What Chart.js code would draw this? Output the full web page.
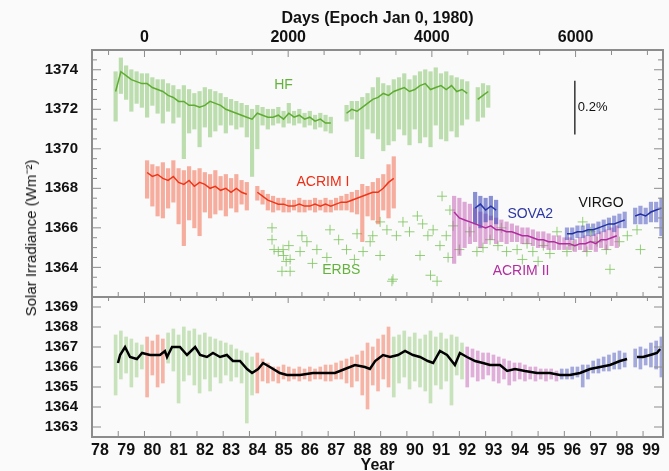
<!DOCTYPE html>
<html>
<head>
<meta charset="utf-8">
<script src="https://cdn.jsdelivr.net/npm/chart.js@4.4.0/dist/chart.umd.min.js"></script>
<style>
html, body { margin: 0; padding: 0; background: #fafafa; }
#wrap { position: relative; width: 669px; height: 471px; }
#ylab { position: absolute; left: 30px; top: 238px; transform: translate(-50%, -50%) rotate(-90deg);
  font: 15px "Liberation Sans", Arial, sans-serif; color: #111; white-space: nowrap; }
</style>
</head>
<body>
<div id="wrap">
<canvas id="chartID" width="669" height="471"></canvas>
<div id="ylab">Solar Irradiance (Wm⁻²)</div>
</div>
<script>
// HF (Nimbus-7), top panel
const hfYears = [78.9,79.1,79.3,79.5,79.7,79.9,80.1,80.3,80.5,80.7, 80.9,81.1,81.3,81.5,81.7,81.9,82.1,82.3,82.5,82.7,
  82.9,83.1,83.3,83.5,83.7,83.9,84.1,84.3,84.5,84.7, 84.9,85.1,85.3,85.5,85.7,85.9,86.1,86.3,86.5,86.7,
  86.9,87.1,87.3,87.5,87.7,87.9,88.1,88.3,88.5,88.7, 88.9,89.1,89.3,89.5,89.7,89.9,90.1,90.3,90.5,90.7,
  90.9,91.1,91.3,91.5,91.7,91.9,92.1,92.3,92.5,92.7, 92.9,93.1]
const hfValues = [1372.9,1373.9,1373.7,1373.5,1373.4,1373.3,1373.3,1373.1,1373.0,1372.9, 1372.7,1372.6,1372.4,1372.4,1372.2,1372.2,1372.1,1372.2,1372.4,1372.3,
  1372.2,1372.0,1371.9,1371.8,1371.7,1371.6,1371.5,1371.8,1371.7,1371.6, 1371.6,1371.7,1371.5,1371.8,1371.6,1371.7,1371.5,1371.6,1371.4,1371.5,
  1371.3,1371.3,null,null,1371.8,1372.0,1371.9,1372.1,1372.3,1372.5, 1372.6,1372.8,1372.7,1372.9,1373.0,1373.1,1372.9,1373.0,1373.2,1373.3,
  1373.0,1373.1,1373.2,1373.0,1373.2,1372.9,1373.0,1372.8,null,1372.5, 1372.7,1372.9]
const hfHigh = [1373.9,1374.6,1374.2,1374.0,1373.9,1373.8,1373.8,1373.6,1373.5,1373.5, 1373.3,1373.2,1373.0,1373.2,1373.0,1372.8,1372.9,1373.1,1373.0,1372.9,
  1372.8,1372.6,1372.5,1372.4,1372.3,1372.2,1372.0,1372.2,1372.1,1372.0, 1372.0,1372.1,1371.9,1372.3,1371.9,1372.0,1371.8,1371.9,1371.7,1371.8,
  1371.7,1371.6,null,null,1372.2,1372.4,1372.4,1372.6,1372.8,1373.1, 1373.6,1373.3,1373.2,1373.5,1373.6,1373.8,1373.5,1373.7,1373.9,1374.0,
  1373.9,1374.1,1373.8,1373.9,1373.7,1373.6,1373.5,1373.4,null,1373.1, 1373.3,1373.2]
const hfLow = [1371.4,1372.8,1372.5,1371.9,1372.3,1372.1,1371.6,1372.2,1371.8,1371.3, 1371.9,1371.3,1371.6,1369.5,1370.8,1371.0,1370.1,1371.1,1370.6,1370.9,
  1371.2,1370.8,1371.2,1371.0,1371.1,1370.6,1368.6,1370.0,1371.2,1371.0, 1371.2,1371.3,1371.1,1371.3,1371.2,1371.3,1371.1,1371.2,1371.0,1371.1,
  1370.9,1370.8,null,null,1371.4,1371.5,1369.6,1369.5,1371.0,1370.8, 1370.5,1369.9,1370.2,1370.4,1371.0,1370.7,1370.2,1371.0,1370.3,1370.6,
  1370.1,1371.2,1370.5,1370.4,1370.9,1370.6,1371.2,1371.5,null,1371.4, 1371.6,1372.1]

// ACRIM I, top panel
const acrim1Years = [80.1,80.3,80.5,80.7,80.9,81.1,81.3,81.5,81.7,81.9, 82.1,82.3,82.5,82.7,82.9,83.1,83.3,83.5,83.7,83.9,
  84.1,84.3,84.5,84.7,84.9,85.1,85.3,85.5,85.7,85.9, 86.1,86.3,86.5,86.7,86.9,87.1,87.3,87.5,87.7,87.9,
  88.1,88.3,88.5,88.7,88.9,89.1,89.3,89.5]
const acrim1Values = [1368.8,1368.6,1368.7,1368.5,1368.4,1368.6,1368.3,1368.2,1368.4,1368.1, 1368.3,1368.2,1368.0,1368.1,1367.9,1368.0,1367.8,1368.0,1367.8,1367.7,
  null,1367.8,1367.6,1367.4,1367.3,1367.2,1367.2,1367.1,1367.1,1367.2, 1367.1,1367.1,1367.2,1367.1,1367.2,1367.1,1367.2,1367.3,1367.3,1367.4,
  1367.5,1367.6,1367.7,1367.8,1367.8,1368.0,1368.3,1368.5]
const acrim1High = [1369.4,1369.2,1369.1,1369.3,1369.0,1369.4,1369.0,1368.9,1369.1,1368.9, 1369.0,1368.8,1368.7,1368.9,1368.6,1368.7,1368.5,1368.7,1368.4,1368.3,
  null,1368.1,1367.9,1367.7,1367.6,1367.5,1367.5,1367.4,1367.4,1367.5, 1367.4,1367.4,1367.5,1367.4,1367.5,1367.4,1367.5,1367.6,1367.7,1367.8,
  1367.9,1368.2,1368.1,1368.3,1368.5,1368.7,1369.2,1369.6]
const acrim1Low = [1367.5,1367.1,1366.6,1366.5,1367.0,1367.3,1366.2,1365.1,1366.4,1366.0, 1365.6,1366.8,1366.5,1366.7,1366.9,1366.6,1367.0,1366.8,1367.2,1366.9,
  null,1367.4,1367.2,1366.9,1366.8,1366.9,1366.8,1366.8,1366.9,1366.8, 1366.8,1366.9,1366.8,1366.9,1366.8,1366.8,1366.9,1366.9,1366.9,1366.8,
  1366.7,1365.3,1366.6,1366.4,1366.2,1366.9,1366.5,1367.0]

// ERBS, top panel
const erbsYears = [84.86,84.86,84.94,85.1,85.3,85.4,85.24,85.5,85.28,85.55, 85.93,86.19,86.57,87.07,86.95,85.55,87.7,88.1,88.33,88.6,
  88.98,88.7,89.24,88.98,89.47,89.6,89.85,90.1,90.4,90.6, 90.8,90.5,90.9,91.34,91.0,91.26,91.5,91.76,91.64,91.57,
  92.0,92.67,92.9,93.17,93.47,93.8,94.2,94.58,94.8,95.2, 95.45,95.72,96.1,96.33,96.7,96.86,97.25,97.6,97.74,98.1,
  98.4,98.77,98.9,89.43,91.15,95.0,86.0,87.4,86.4,88.0, 92.4,93.6,94.4,97.0]
const erbsValues = [1366.0,1365.4,1364.9,1364.8,1364.6,1364.3,1363.8,1365.1,1364.9,1364.4, 1364.8,1365.3,1364.9,1365.9,1364.5,1363.8,1364.9,1365.7,1364.8,1365.3,
  1366.3,1365.6,1365.9,1364.6,1363.4,1365.6,1366.3,1365.8,1366.6,1366.2, 1365.6,1364.6,1363.6,1367.6,1365.9,1365.1,1365.6,1366.1,1366.9,1364.5,
  1364.9,1364.8,1365.0,1365.4,1365.1,1364.8,1364.9,1365.2,1364.8,1365.1, 1364.7,1365.8,1364.8,1365.1,1366.3,1364.8,1365.3,1364.9,1363.9,1365.3,
  1365.6,1365.9,1364.9,1363.3,1363.3,1364.3,1365.6,1365.4,1364.2,1364.4, 1365.8,1366.0,1364.4,1365.8]

// ACRIM II, top panel
const acrim2Years = [91.8,92.0,92.2,92.4,92.6,92.8,93.0,93.2,93.4,93.6, 93.8,94.0,94.2,94.4,94.6,94.8,95.0,95.2,95.4,95.6,
  95.8,96.0,96.2,96.4,96.6,96.8,97.0,97.2,97.4,97.6, 97.8,98.0]
const acrim2Values = [1366.8,1366.5,1366.4,1366.3,1366.2,1366.1,1366.0,1366.1,1365.9,1365.9, 1365.8,1365.8,1365.7,1365.6,1365.6,1365.5,1365.4,1365.4,1365.3,1365.3,
  1365.2,1365.2,1365.2,1365.1,1365.2,1365.2,1365.3,1365.2,1365.4,1365.4, 1365.5,1365.6]
const acrim2High = [1367.6,1367.5,1367.3,1367.2,1367.0,1366.8,1366.7,1366.6,1366.5,1366.4, 1366.3,1366.2,1366.1,1366.0,1366.0,1365.9,1365.8,1365.8,1365.7,1365.6,
  1365.6,1365.5,1365.5,1365.4,1365.5,1365.6,1365.6,1365.7,1365.8,1365.9, 1366.0,1366.1]
const acrim2Low = [1364.2,1364.6,1365.0,1365.2,1365.3,1365.0,1365.2,1365.4,1365.2,1365.3, 1365.2,1365.3,1365.3,1365.2,1365.2,1365.1,1365.0,1365.0,1364.9,1364.9,
  1364.9,1364.9,1364.9,1364.8,1364.9,1364.8,1364.9,1364.8,1365.0,1364.9, 1365.1,1365.0]

// SOVA2, top panel
const sovaYears = [92.6,92.8,93.0,93.2,93.4]
const sovaValues = [1367.0,1367.2,1366.9,1367.1,1366.9]
const sovaHigh = [1367.8,1367.6,1367.5,1367.6,1367.4]
const sovaLow = [1366.2,1366.0,1366.3,1366.4,1366.2]

// VIRGO, top panel
const virgoYears = [96.1,96.3,96.5,96.7,96.9,97.1,97.3,97.5,97.7,97.9, 98.1,98.3,98.5,98.7,98.9,99.1,99.3,99.5,99.7]
const virgoValues = [1365.7,1365.7,1365.8,1365.8,1365.9,1365.9,1366.0,1366.1,1366.2,1366.2, 1366.3,1366.4,null,1366.6,1366.7,1366.6,1366.8,1366.9,1367.0]
const virgoHigh = [1366.0,1366.0,1366.1,1366.1,1366.2,1366.2,1366.3,1366.4,1366.5,1366.6, 1366.7,1366.8,null,1367.0,1367.1,1367.0,1367.3,1367.3,1367.5]
const virgoLow = [1365.4,1365.4,1365.5,1365.5,1365.6,1365.6,1365.7,1365.8,1365.9,1365.8, 1366.0,1366.0,null,1366.2,1366.2,1366.2,1366.3,1366.3,1365.6]

// composite, bottom panel
const compYears = [78.99,79.07,79.26,79.45,79.71,79.91,80.21,80.59,80.78,80.86, 81.05,81.35,81.62,81.93,82.12,82.38,82.61,82.88,83.14,83.37,
  83.64,83.91,84.1,84.33,84.52,84.78,85.16,85.43,85.93,86.42, 86.96,87.26,87.64,88.02,88.4,88.59,88.79,89.09,89.36,89.66,
  89.93,90.23,90.5,90.8,91.0,91.26,91.53,91.83,92.02,92.29, 92.6,92.9,93.17,93.55,93.82,94.12,94.5,94.96,95.45,95.83,
  96.21,96.6,96.98,97.36,97.74,98.12,98.39,98.55,98.77,99.0, 99.27,99.53,99.65]
const compValues = [1366.2,1366.6,1367.0,1366.5,1366.4,1366.7,1366.6,1366.6,1366.8,1366.5, 1367.0,1367.0,1366.6,1367.0,1366.6,1366.5,1366.7,1366.5,1366.6,1366.3,
  1366.3,1365.9,1365.7,1365.9,1366.2,1366.0,1365.7,1365.6,1365.6,1365.7, 1365.7,1365.7,1365.9,1366.1,1366.0,1365.9,1366.3,1366.6,1366.5,1366.6,
  1366.8,1366.6,1366.5,1366.3,1366.2,1366.8,1366.6,1366.1,1366.7,1366.5, 1366.3,1366.2,1366.1,1366.1,1365.8,1365.9,1365.8,1365.7,1365.7,1365.6,
  1365.6,1365.7,1365.9,1366.0,1366.1,1366.3,1366.4,null,1366.5,1366.5, 1366.6,1366.7,1366.9]

// daily spread under the composite, bottom panel (source instrument per sample)
const lowerYears = [78.9,79.1,79.3,79.5,79.7,79.9,80.1,80.3,80.5,80.7, 80.9,81.1,81.3,81.5,81.7,81.9,82.1,82.3,82.5,82.7,
  82.9,83.1,83.3,83.5,83.7,83.9,84.1,84.3,84.5,84.7, 84.9,85.1,85.3,85.5,85.7,85.9,86.1,86.3,86.5,86.7,
  86.9,87.1,87.3,87.5,87.7,87.9,88.1,88.3,88.5,88.7, 88.9,89.1,89.3,89.5,89.7,89.9,90.1,90.3,90.5,90.7,
  90.9,91.1,91.3,91.5,91.7,91.9,92.1,92.3,92.5,92.7, 92.9,93.1,93.3,93.5,93.7,93.9,94.1,94.3,94.5,94.7,
  94.9,95.1,95.3,95.5,95.7,95.9,96.1,96.3,96.5,96.7, 96.9,97.1,97.3,97.5,97.7,97.9,98.1,98.3,98.7,98.9,
  99.1,99.3,99.5,99.7]
const lowerSource = ['HF','HF','HF','HF','HF','HF','ACRIM1','ACRIM1','ACRIM1','ACRIM1',
  'HF','HF','HF','HF','HF','HF','HF','HF','HF','HF',
  'HF','HF','HF','HF','HF','HF','HF','ACRIM1','ACRIM1','ACRIM1',
  'ACRIM1','ACRIM1','ACRIM1','ACRIM1','ACRIM1','ACRIM1','ACRIM1','ACRIM1','ACRIM1','ACRIM1',
  'ACRIM1','ACRIM1','ACRIM1','ACRIM1','ACRIM1','ACRIM1','ACRIM1','ACRIM1','ACRIM1','ACRIM1',
  'ACRIM1','ACRIM1','ACRIM1','HF','HF','HF','HF','HF','HF','HF',
  'HF','HF','HF','HF','HF','HF','HF','ACRIM2','ACRIM2','ACRIM2',
  'ACRIM2','ACRIM2','ACRIM2','ACRIM2','ACRIM2','ACRIM2','ACRIM2','ACRIM2','ACRIM2','ACRIM2',
  'ACRIM2','ACRIM2','ACRIM2','ACRIM2','ACRIM2','VIRGO','VIRGO','VIRGO','VIRGO','VIRGO',
  'VIRGO','VIRGO','VIRGO','VIRGO','VIRGO','VIRGO','VIRGO','VIRGO','VIRGO','VIRGO',
  'VIRGO','VIRGO','VIRGO','VIRGO']
const lowerHigh = [1367.6,1367.8,1367.5,1367.4,1367.2,1367.1,1367.5,1367.3,1367.6,1367.4,
  1367.7,1367.9,1367.6,1368.0,1367.8,1367.9,1367.6,1367.7,1367.5,1367.4,
  1367.3,1367.2,1367.1,1366.9,1366.8,1366.7,1366.5,1366.7,1366.4,1366.2,
  1366.0,1366.0,1366.1,1366.0,1365.9,1366.0,1365.9,1366.0,1365.9,1366.0,
  1366.1,1366.1,1366.2,1366.3,1366.4,1366.5,1366.6,1366.8,1367.2,1367.0,
  1367.4,1367.6,1368.0,1367.5,1367.6,1367.8,1367.5,1367.7,1367.4,1367.6,
  1367.8,1367.5,1367.7,1367.4,1367.6,1367.5,1367.2,1367.0,1366.9,1366.8,
  1366.7,1366.7,1366.6,1366.5,1366.4,1366.3,1366.2,1366.2,1366.1,1366.0,
  1366.0,1365.9,1365.9,1365.9,1365.8,1365.9,1365.9,1366.0,1366.0,1366.1,
  1366.1,1366.3,1366.4,1366.5,1366.6,1366.7,1366.8,1366.7,1366.9,1367.0,
  1366.9,1367.2,1367.3,1367.5]
const lowerLow = [1364.6,1365.4,1365.7,1365.0,1365.5,1365.9,1364.5,1365.6,1365.0,1365.2,
  1366.2,1365.8,1364.2,1365.3,1365.6,1365.1,1364.7,1365.4,1364.8,1365.5,
  1365.2,1365.6,1365.3,1365.5,1365.2,1363.2,1364.6,1364.7,1365.3,1365.2,
  1365.3,1365.2,1365.4,1365.3,1365.4,1365.3,1365.4,1365.3,1365.4,1365.4,
  1365.3,1365.3,1365.4,1365.4,1365.2,1365.0,1365.3,1364.6,1363.9,1365.1,
  1364.8,1365.4,1365.0,1364.5,1365.2,1365.5,1364.9,1365.3,1365.0,1364.8,
  1364.2,1365.1,1364.9,1365.3,1364.1,1365.6,1365.4,1365.0,1365.5,1365.3,
  1365.4,1365.6,1365.3,1365.2,1365.4,1365.1,1365.3,1365.4,1365.3,1365.4,
  1365.3,1365.4,1365.3,1365.4,1365.3,1365.4,1365.4,1365.4,1365.5,1365.0,
  1365.4,1365.7,1365.7,1365.8,1365.8,1365.9,1365.9,1366.0,1366.0,1365.9,
  1366.1,1366.0,1365.9,1365.5]

// axis ticks
const dayTicks = [-500, 0, 500, 1000, 1500, 2000, 2500, 3000, 3500, 4000, 4500, 5000, 5500, 6000, 6500, 7000]
const dayLabels = [0, 2000, 4000, 6000]
const topTicks = [1363, 1363.5, 1364, 1364.5, 1365, 1365.5, 1366, 1366.5, 1367, 1367.5, 1368, 1368.5,
  1369, 1369.5, 1370, 1370.5, 1371, 1371.5, 1372, 1372.5, 1373, 1373.5, 1374, 1374.5]
const bottomTicks = [1363, 1364, 1365, 1366, 1367, 1368, 1369]

// series labels drawn inside the top panel
const labelTexts = ['HF', 'ACRIM I', 'ERBS', 'SOVA2', 'VIRGO', 'ACRIM II']
const labelYears = [85.3, 86.8, 87.5, 94.7, 97.4, 94.35]
const labelValues = [1373.2, 1368.3, 1363.85, 1366.7, 1367.25, 1363.8]
const labelColors = ['rgb(100,178,60)', 'rgb(238,45,20)', 'rgb(100,178,60)', 'rgb(45,55,165)', '#111', 'rgb(178,45,160)']

const colors = {
	HF: ['rgb(95,172,50)', 'rgba(125,192,95,0.5)'],
	ACRIM1: ['rgb(238,55,25)', 'rgba(242,95,65,0.5)'],
	ACRIM2: ['rgb(175,45,158)', 'rgba(192,85,178,0.5)'],
	SOVA: ['rgb(40,52,168)', 'rgba(60,72,185,0.6)'],
	VIRGO: ['rgb(35,48,160)', 'rgba(60,72,185,0.5)'],
}

function points(xs, ys) {
	return xs.map(function(x, i) { return {x: x, y: ys[i]} })
}
function ranges(xs, lo, hi) {
	let out = []
	xs.forEach(function(x, i) {
		if (lo[i] !== null) out.push({x: x, y: [lo[i], hi[i]]})
	})
	return out
}
function lowerRanges(src) {
	let out = []
	lowerYears.forEach(function(x, i) {
		if (lowerSource[i] === src) out.push({x: x, y: [lowerLow[i], lowerHigh[i]]})
	})
	return out
}
function lineSet(data, color, axis, width) {
	return {type: 'line', data: data, yAxisID: axis, borderColor: color, borderWidth: width,
		pointRadius: 0, tension: 0, spanGaps: false, fill: false}
}
function barSet(data, color, axis, thick) {
	return {type: 'bar', data: data, yAxisID: axis, backgroundColor: color, barThickness: thick,
		grouped: false, borderWidth: 0}
}
function fixedTicks(list) {
	return function(sc) { sc.ticks = list.map(function(v) { return {value: v} }) }
}

const data = {
	datasets: [
		lineSet(points(compYears, compValues), '#000', 'yBot', 2.5),
		lineSet(points(hfYears, hfValues), colors.HF[0], 'yTop', 1.5),
		lineSet(points(acrim1Years, acrim1Values), colors.ACRIM1[0], 'yTop', 1.5),
		lineSet(points(sovaYears, sovaValues), colors.SOVA[0], 'yTop', 1.5),
		lineSet(points(virgoYears, virgoValues), colors.VIRGO[0], 'yTop', 1.5),
		lineSet(points(acrim2Years, acrim2Values), colors.ACRIM2[0], 'yTop', 1.5),
		barSet(ranges(hfYears, hfLow, hfHigh), colors.HF[1], 'yTop', 3.5),
		barSet(ranges(acrim1Years, acrim1Low, acrim1High), colors.ACRIM1[1], 'yTop', 3.5),
		barSet(ranges(sovaYears, sovaLow, sovaHigh), colors.SOVA[1], 'yTop', 3.5),
		barSet(ranges(virgoYears, virgoLow, virgoHigh), colors.VIRGO[1], 'yTop', 3.5),
		barSet(ranges(acrim2Years, acrim2Low, acrim2High), colors.ACRIM2[1], 'yTop', 3.5),
		{type: 'scatter', data: points(erbsYears, erbsValues), yAxisID: 'yTop', showLine: false,
			pointStyle: 'cross', pointRadius: 5, borderColor: 'rgba(130,198,100,0.85)', borderWidth: 1},
		barSet(lowerRanges('HF'), 'rgba(140,200,110,0.45)', 'yBot', 3),
		barSet(lowerRanges('ACRIM1'), 'rgba(242,95,65,0.45)', 'yBot', 3),
		barSet(lowerRanges('ACRIM2'), 'rgba(192,85,178,0.45)', 'yBot', 3),
		barSet(lowerRanges('VIRGO'), 'rgba(60,72,185,0.45)', 'yBot', 3),
	],
}

// inward tick marks, frame, series labels and the 0.2% bar
const frameTicks = {
	id: 'frameTicks',
	afterDraw: function(chart) {
		const ctx = chart.ctx
		const a = chart.chartArea
		const s = chart.scales
		const mid = s.yTop.bottom
		function seg(x1, y1, x2, y2) { ctx.beginPath(); ctx.moveTo(x1, y1); ctx.lineTo(x2, y2); ctx.stroke() }
		ctx.save()
		ctx.strokeStyle = '#8c8c8c'
		ctx.lineWidth = 1
		topTicks.forEach(function(v) {
			const py = s.yTop.getPixelForValue(v)
			const len = v % 2 === 0 ? 9 : 5
			seg(a.left, py, a.left + len, py)
			seg(a.right, py, a.right - len, py)
		})
		bottomTicks.forEach(function(v) {
			const py = s.yBot.getPixelForValue(v)
			seg(a.left, py, a.left + 9, py)
			seg(a.right, py, a.right - 9, py)
		})
		s.x.ticks.forEach(function(t) {
			const px = s.x.getPixelForValue(t.value)
			seg(px, a.bottom, px, a.bottom - 6)
			seg(px, mid, px, mid - 5)
		})
		dayTicks.forEach(function(d) {
			const px = s.xd.getPixelForValue(d)
			const len = d % 2000 === 0 ? 7 : 5
			seg(px, a.top, px, a.top + len)
			seg(px, mid, px, mid + len - 1)
		})
		ctx.lineWidth = 2
		ctx.strokeRect(a.left, a.top, a.right - a.left, a.bottom - a.top)
		seg(a.left, mid, a.right, mid)

		// 0.2% scale bar
		ctx.strokeStyle = '#333'
		ctx.lineWidth = 1.5
		const bx = s.x.getPixelForValue(96.4)
		seg(bx, s.yTop.getPixelForValue(1373.45), bx, s.yTop.getPixelForValue(1370.72))
		ctx.fillStyle = '#111'
		ctx.font = '13px "Liberation Sans", Arial, sans-serif'
		ctx.textAlign = 'left'
		ctx.textBaseline = 'middle'
		ctx.fillText('0.2%', bx + 3, s.yTop.getPixelForValue(1372.1))

		ctx.textAlign = 'center'
		ctx.font = '14px "Liberation Sans", Arial, sans-serif'
		labelTexts.forEach(function(txt, i) {
			ctx.fillStyle = labelColors[i]
			ctx.fillText(txt, s.x.getPixelForValue(labelYears[i]), s.yTop.getPixelForValue(labelValues[i]))
		})
		ctx.restore()
	}
}

const tickFont = {family: '"Liberation Sans", Arial, sans-serif', size: 15, weight: 'bold'}
const axisFont = {family: '"Liberation Sans", Arial, sans-serif', size: 16, weight: 'bold'}

function drawChart() {
	let chartCtx = document.getElementById('chartID').getContext('2d')
	new Chart(chartCtx, {
		type: 'line',
		data: data,
		plugins: [frameTicks],
		options: {
			responsive: false,
			animation: false,
			layout: {padding: {left: 0, right: 6, top: 0, bottom: 0}},
			plugins: {legend: {display: false}, tooltip: {enabled: false}},
			scales: {
				x: {
					type: 'linear', position: 'bottom', min: 78, max: 99.76, offset: false,
					grid: {display: false, drawTicks: false}, border: {display: false},
					ticks: {stepSize: 1, autoSkip: false, includeBounds: false, maxRotation: 0, padding: 4,
						labelOffset: 8, color: '#111', font: axisFont,
						callback: function(v) { return String(Math.round(v)) }},
					title: {display: true, text: 'Year', color: '#111', font: axisFont, padding: {top: 0, bottom: -4}},
					afterFit: function(sc) { sc.height = 34 },
				},
				xd: {
					type: 'linear', position: 'top', min: -730.5, max: 7217, offset: false,
					grid: {display: false, drawTicks: false}, border: {display: false},
					afterBuildTicks: fixedTicks(dayLabels),
					ticks: {autoSkip: false, maxRotation: 0, padding: 3, color: '#111', font: axisFont,
						callback: function(v) { return String(v) }},
					title: {display: true, text: 'Days (Epoch Jan 0, 1980)', color: '#111', font: axisFont, padding: {top: 9, bottom: 0}},
					afterFit: function(sc) { sc.height = 50 },
				},
				yBot: {
					type: 'linear', position: 'left', stack: 'irr', stackWeight: 140, min: 1362.5, max: 1369.5,
					grid: {display: false, drawTicks: false}, border: {display: false},
					afterBuildTicks: fixedTicks(bottomTicks),
					ticks: {autoSkip: false, padding: 14, color: '#111', font: tickFont,
						callback: function(v) { return String(v) }},
					afterFit: function(sc) { sc.width = 92 },
				},
				yTop: {
					type: 'linear', position: 'left', stack: 'irr', stackWeight: 247, min: 1362.5, max: 1375,
					grid: {display: false, drawTicks: false}, border: {display: false},
					afterBuildTicks: fixedTicks(topTicks),
					ticks: {autoSkip: false, padding: 14, color: '#111', font: tickFont,
						callback: function(v) { return v % 2 === 0 ? String(v) : '' }},
					afterFit: function(sc) { sc.width = 92 },
				},
			},
		},
	})
}
drawChart()
</script>
</body>
</html>
